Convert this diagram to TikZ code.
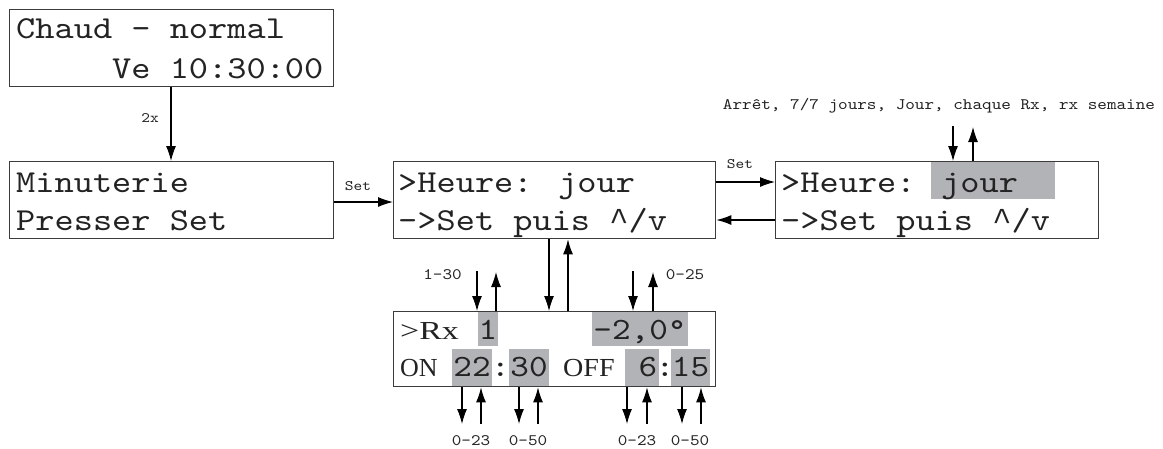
\documentclass[tikz,border=0pt]{standalone}
\usepackage{fontspec}
\newfontfamily\lcdfont{lmmono10-regular.otf}[FakeStretch=1.143]
\newfontfamily\caretfont{Liberation Mono}
\newfontfamily\lcdserif{Liberation Serif}
\newcommand{\lcdcaret}{{\caretfont\textasciicircum}}
\usetikzlibrary{arrows.meta}
\definecolor{hl}{RGB}{177,179,182}
\definecolor{frame}{RGB}{60,60,60}
\definecolor{ink}{RGB}{35,35,35}
\tikzset{
  lcdbox/.style={draw=frame, line width=1.4pt, anchor=north west, inner sep=0pt, minimum height=77pt},
  lcdtxt/.style={anchor=base west, inner sep=0pt, text=ink, font=\lcdfont\fontsize{32}{38}\selectfont},
  rxnum/.style={anchor=base, inner sep=0pt, text=ink, font=\lcdfont\fontsize{31}{36}\selectfont},
  rxword/.style={anchor=base west, inner sep=0pt, text=ink, font=\lcdserif\fontsize{26}{30}\selectfont},
  lbl/.style={anchor=base, inner sep=0pt, text=ink, font=\lcdfont\fontsize{16}{19}\selectfont},
  lbls/.style={anchor=base, inner sep=0pt, text=ink, font=\lcdfont\fontsize{14.5}{17}\selectfont},
  arr/.style={-{Latex[length=15pt,width=10pt]}, line width=1.1pt, black},
  hlbox/.style={fill=hl, draw=none},
}
\begin{document}
\begin{tikzpicture}[x=1pt,y=-1pt]
\fill[white] (0,0) rectangle (1163,448);
\useasboundingbox (0,0) rectangle (1163,448);

% highlights
\fill[hlbox] (931,162) rectangle (1055,199);
\fill[hlbox] (478,312) rectangle (498,346);
\fill[hlbox] (592,312) rectangle (688,346);
\fill[hlbox] (452,349) rectangle (492,386);
\fill[hlbox] (509,349) rectangle (549,386);
\fill[hlbox] (625,349) rectangle (659,386);
\fill[hlbox] (671,349) rectangle (710,386);

% boxes
\node[lcdbox, minimum width=324pt] (box1) at (9,9) {};
\node[lcdbox, minimum width=324pt] (box2) at (9,161) {};
\node[lcdbox, minimum width=322pt] (box3) at (393,161) {};
\node[lcdbox, minimum width=323pt] (box4) at (775,161) {};
\node[lcdbox, minimum width=322pt, minimum height=75pt] (box5) at (393,311) {};

% box texts
\node[lcdtxt] (t1a) at (16,38) {Chaud - normal};
\node[lcdtxt] (t1b) at (112,78) {Ve 10:30:00};
\node[lcdtxt] (t2a) at (16,192) {Minuterie};
\node[lcdtxt] (t2b) at (16,230) {Presser Set};
\node[lcdtxt] (t3a) at (398,192) {>Heure: jour};
\node[lcdtxt] (t3b) at (398,230) {->Set puis \lcdcaret/v};
\node[lcdtxt] (t4a) at (781,192) {>Heure: jour};
\node[lcdtxt] (t4b) at (781,230) {->Set puis \lcdcaret/v};

% Rx box texts
\node[rxword] (rx) at (400,339) {\scalebox{1.3}[1]{>Rx}};
\node[rxnum] (rxn) at (488,339) {1};
\node[rxnum] (tmp) at (640,339) {-2,0°};
\node[rxword] (on) at (400,376) {ON};
\node[rxword] (off) at (563,376) {\scalebox{1.08}[1]{OFF}};
\node[rxnum] (onh) at (472,376) {22};
\node[rxnum] (c1) at (500.5,376) {:};
\node[rxnum] (onm) at (529,376) {30};
\node[rxnum] (offh) at (648,376) {6};
\node[rxnum] (c2) at (665,376) {:};
\node[rxnum] (offm) at (690.5,376) {15};

% labels
\node[lbls] (l2x) at (150,122) {2x};
\node[lbls] (lset1) at (358,190) {Set};
\node[lbls] (lset2) at (740,168) {Set};
\node[lbl] (lmode) at (939,109) {Arrêt, 7/7 jours, Jour, chaque Rx, rx semaine};
\node[lbl] (l130) at (442.5,279) {1-30};
\node[lbl] (l025) at (685,279) {0-25};
\node[lbl] (l023a) at (471,445) {0-23};
\node[lbl] (l050a) at (528,445) {0-50};
\node[lbl] (l023b) at (637,445) {0-23};
\node[lbl] (l050b) at (690,445) {0-50};

% free ends
\coordinate (j1) at (953,126);
\coordinate (j2) at (973,127);
\coordinate (r1a) at (477,271);
\coordinate (r1b) at (496,272);
\coordinate (r2a) at (633,271);
\coordinate (r2b) at (653,272);
\coordinate (b1a) at (462,424);
\coordinate (b1b) at (481,424);
\coordinate (b2a) at (519,424);
\coordinate (b2b) at (538,424);
\coordinate (b3a) at (627,424);
\coordinate (b3b) at (647,424);
\coordinate (b4a) at (682,424);
\coordinate (b4b) at (701,424);

% connectors
\draw[arr] (box1.south -| 171,0) -- (box2.north -| 171,0);
\draw[arr] (box2.east |- 0,202) -- (box3.west |- 0,202);
\draw[arr] (box3.east |- 0,182) -- (box4.west |- 0,182);
\draw[arr] (box4.west |- 0,220) -- (box3.east |- 0,220);
\draw[arr] (j1) -- (box4.north -| j1);
\draw[arr] (box4.north -| j2) -- (j2);
\draw[arr] (box3.south -| 549,0) -- (box5.north -| 549,0);
\draw[arr] (box5.north -| 568,0) -- (box3.south -| 568,0);
\draw[arr] (r1a) -- (box5.north -| r1a);
\draw[arr] (box5.north -| r1b) -- (r1b);
\draw[arr] (r2a) -- (box5.north -| r2a);
\draw[arr] (box5.north -| r2b) -- (r2b);
\draw[arr] (box5.south -| b1a) -- (b1a);
\draw[arr] (b1b) -- (box5.south -| b1b);
\draw[arr] (box5.south -| b2a) -- (b2a);
\draw[arr] (b2b) -- (box5.south -| b2b);
\draw[arr] (box5.south -| b3a) -- (b3a);
\draw[arr] (b3b) -- (box5.south -| b3b);
\draw[arr] (box5.south -| b4a) -- (b4a);
\draw[arr] (b4b) -- (box5.south -| b4b);
\end{tikzpicture}
\end{document}
